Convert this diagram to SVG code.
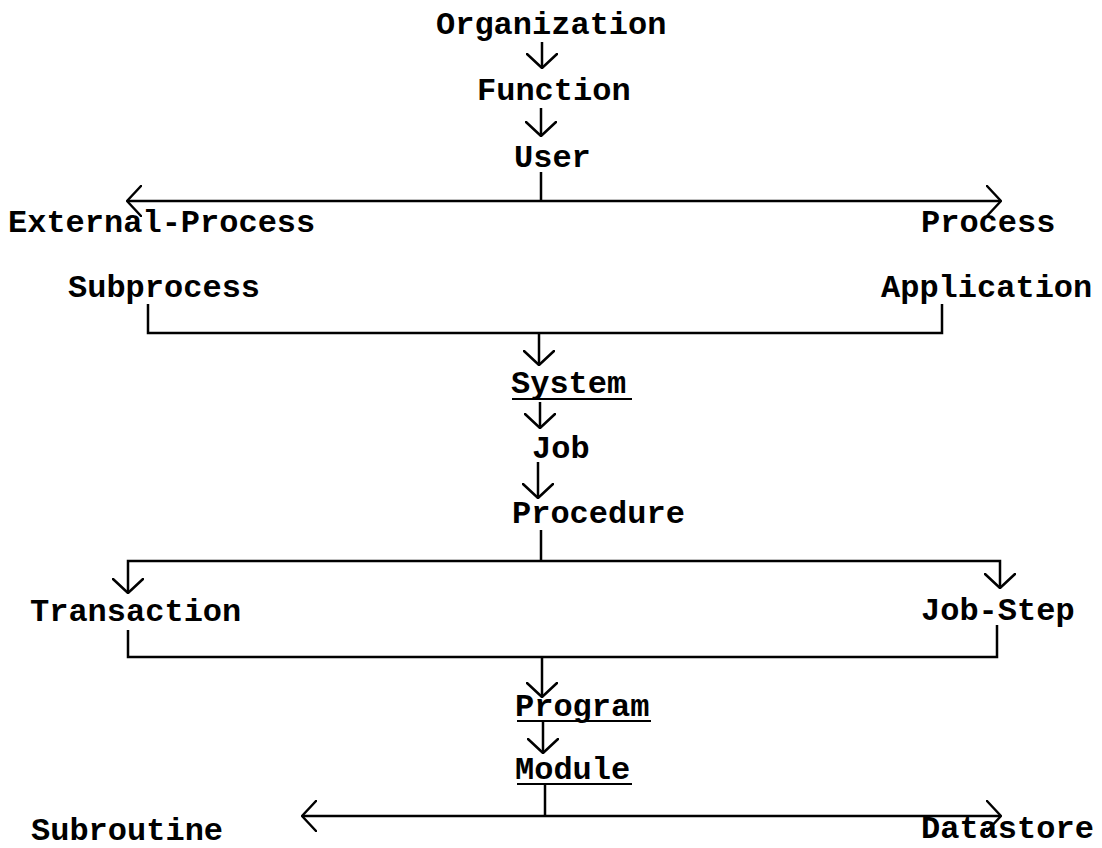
<svg xmlns="http://www.w3.org/2000/svg" width="1102" height="848" viewBox="0 0 1102 848">
<style>
.t{font-family:"Liberation Mono","Courier New",monospace;font-weight:bold;font-size:32px;fill:#000}
.u{stroke:#000;stroke-width:2}
.c{stroke:#000;stroke-width:2.5;fill:none}
.a{marker-end:url(#ah)}
</style>
<defs>
<marker id="ah" viewBox="0 0 16 32" refX="15" refY="16" markerWidth="16" markerHeight="32" markerUnits="userSpaceOnUse" orient="auto">
<path d="M1,1 L15,16 L1,31" fill="none" stroke="#000" stroke-width="2.5" stroke-linecap="round" stroke-linejoin="round"/>
</marker>
</defs>
<rect width="1102" height="848" fill="#fff"/>
<g id="organization"><text class="t" x="436" y="34">Organization</text></g>
<g id="function"><text class="t" x="477" y="100">Function</text></g>
<g id="user"><text class="t" x="514" y="167">User</text></g>
<g id="external-process"><text class="t" x="8" y="232">External-Process</text></g>
<g id="process"><text class="t" x="921" y="232">Process</text></g>
<g id="subprocess"><text class="t" x="68" y="297">Subprocess</text></g>
<g id="application"><text class="t" x="881" y="297">Application</text></g>
<g id="system"><text class="t" x="511" y="393">System</text><line class="u" x1="512" y1="399" x2="632" y2="399"/></g>
<g id="job"><text class="t" x="532" y="458">Job</text></g>
<g id="procedure"><text class="t" x="512" y="523">Procedure</text></g>
<g id="transaction"><text class="t" x="30" y="621">Transaction</text></g>
<g id="job-step"><text class="t" x="921" y="620">Job-Step</text></g>
<g id="program"><text class="t" x="515" y="716">Program</text><line class="u" x1="517" y1="721" x2="651" y2="721"/></g>
<g id="module"><text class="t" x="515" y="779">Module</text><line class="u" x1="517" y1="784" x2="632" y2="784"/></g>
<g id="subroutine"><text class="t" x="31" y="840">Subroutine</text></g>
<g id="datastore"><text class="t" x="921" y="838">Datastore</text></g>
<g id="connectors">
<path class="c a" d="M542,42 V68"/>
<path class="c a" d="M541,108 V136"/>
<path class="c" d="M541,172 V201"/>
<path class="c a" d="M541,201 H127"/>
<path class="c a" d="M541,201 H1001"/>
<path class="c" d="M148,304 V333 H942 V304"/>
<path class="c a" d="M539,333 V365"/>
<path class="c a" d="M540,402 V428"/>
<path class="c a" d="M538,462 V498"/>
<path class="c" d="M541,530 V561"/>
<path class="c a" d="M541,561 H128 V593"/>
<path class="c a" d="M541,561 H1000 V588"/>
<path class="c" d="M128,630 V657 H997 V625"/>
<path class="c a" d="M542,657 V697"/>
<path class="c a" d="M543,722 V753"/>
<path class="c" d="M545,785 V816"/>
<path class="c a" d="M545,816 H302"/>
<path class="c a" d="M545,816 H1001"/>
</g>
</svg>
